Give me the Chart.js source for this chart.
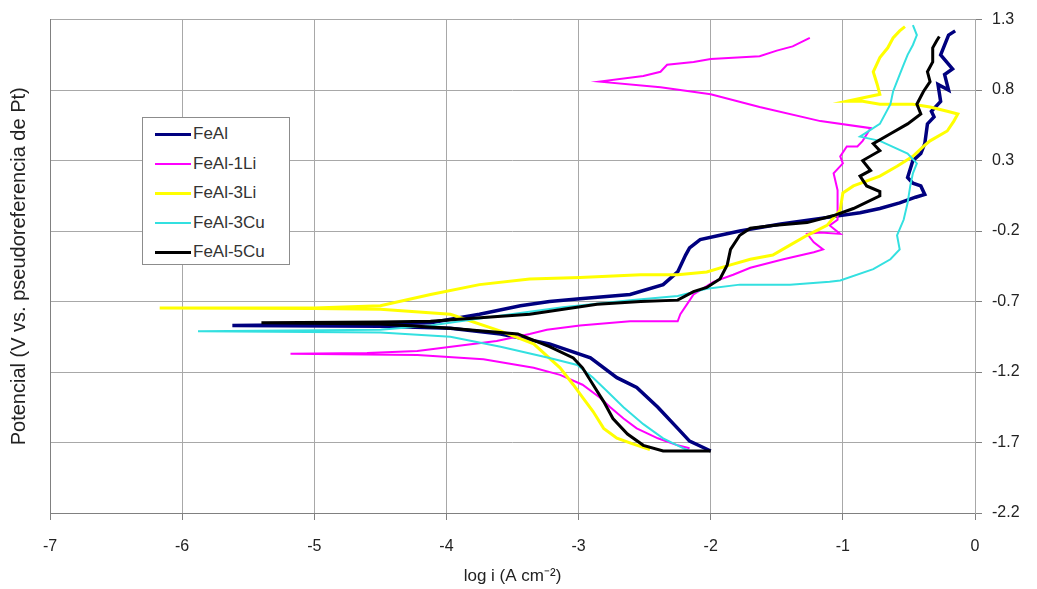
<!DOCTYPE html>
<html><head><meta charset="utf-8">
<script src="https://cdn.jsdelivr.net/npm/chart.js@4.4.0/dist/chart.umd.min.js"></script>
<style>
html,body{margin:0;padding:0;background:#fff;}
#wrap{position:relative;width:1037px;height:589px;overflow:hidden;}
#legend{position:absolute;left:142px;top:117px;width:148px;height:148px;border:1px solid #8c8c8c;background:#fff;box-sizing:border-box;font-family:"Liberation Sans",Arial,sans-serif;font-size:17px;color:#333;}
.row{position:absolute;left:12px;height:20px;display:flex;align-items:center;white-space:nowrap;}
.sw{width:36px;margin-right:2px;}
</style></head><body>
<div id="wrap"><canvas id="c" width="1037" height="589"></canvas><div id="legend"></div></div>
<script>
const seriesNames = ["FeAl", "FeAl-1Li", "FeAl-3Li", "FeAl-3Cu", "FeAl-5Cu"];
const xTicks = [-7, -6, -5, -4, -3, -2, -1, 0];
const yTicks = [1.3, 0.8, 0.3, -0.2, -0.7, -1.2, -1.7, -2.2];

const feAlX = [-2.00,-2.16,-2.25,-2.40,-2.56,-2.71,-2.91,-3.22,-3.59,-3.97,-4.50,-5.62,-4.50,-4.12,-3.75,-3.44,-3.22,-2.99,-2.61,-2.36,-2.25,-2.19,-2.16,-2.08,-1.93,-1.78,-1.47,-1.17,-0.87,-0.72,-0.57,-0.45,-0.38,-0.41,-0.47,-0.51,-0.47,-0.41,-0.38,-0.36,-0.31,-0.33,-0.26,-0.28,-0.20,-0.23,-0.17,-0.26,-0.20,-0.15];
const feAlY = [-1.76,-1.69,-1.60,-1.45,-1.31,-1.24,-1.10,-1.00,-0.93,-0.89,-0.875,-0.87,-0.86,-0.85,-0.79,-0.73,-0.70,-0.68,-0.65,-0.58,-0.49,-0.37,-0.32,-0.26,-0.23,-0.20,-0.15,-0.11,-0.07,-0.04,0.00,0.04,0.06,0.12,0.14,0.18,0.30,0.35,0.42,0.56,0.61,0.65,0.72,0.84,0.80,0.91,0.95,1.05,1.19,1.22];

const feAl1LiX = [-2.16,-2.25,-2.40,-2.56,-2.66,-2.76,-2.84,-2.97,-3.14,-3.34,-3.72,-4.22,-5.18,-4.60,-4.22,-3.62,-3.37,-3.24,-2.99,-2.61,-2.25,-2.23,-2.18,-2.13,-1.98,-1.83,-1.70,-1.45,-1.22,-1.15,-1.22,-1.27,-1.17,-1.02,-1.10,-1.04,-1.04,-1.04,-1.07,-1.00,-1.02,-0.97,-0.89,-0.85,-0.79,-1.17,-1.63,-2.00,-2.38,-2.84,-2.51,-2.38,-2.33,-2.13,-2.00,-1.63,-1.50,-1.38,-1.25];
const feAl1LiY = [-1.74,-1.72,-1.67,-1.60,-1.53,-1.45,-1.38,-1.29,-1.22,-1.17,-1.11,-1.08,-1.07,-1.065,-1.05,-0.98,-0.93,-0.90,-0.87,-0.84,-0.84,-0.79,-0.72,-0.65,-0.56,-0.51,-0.46,-0.40,-0.35,-0.33,-0.28,-0.22,-0.21,-0.22,-0.16,-0.12,-0.07,0.09,0.21,0.28,0.33,0.40,0.40,0.44,0.53,0.58,0.68,0.77,0.82,0.86,0.90,0.93,0.98,1.00,1.02,1.04,1.08,1.11,1.17];

const feAl3LiX = [-2.46,-2.59,-2.71,-2.81,-2.89,-2.97,-3.04,-3.14,-3.34,-3.59,-3.97,-4.50,-5.00,-6.17,-5.00,-4.50,-4.12,-3.75,-3.37,-2.99,-2.53,-2.25,-2.03,-1.85,-1.70,-1.53,-1.40,-1.27,-1.12,-1.02,-1.00,-0.92,-0.72,-0.59,-0.47,-0.39,-0.34,-0.21,-0.16,-0.13,-0.21,-0.34,-0.47,-0.72,-0.85,-0.97,-0.72,-0.74,-0.77,-0.72,-0.66,-0.62,-0.57,-0.53];
const feAl3LiY = [-1.75,-1.71,-1.67,-1.60,-1.48,-1.38,-1.29,-1.17,-1.00,-0.91,-0.79,-0.755,-0.75,-0.745,-0.745,-0.73,-0.65,-0.58,-0.54,-0.53,-0.51,-0.51,-0.49,-0.44,-0.40,-0.37,-0.30,-0.23,-0.16,-0.05,0.07,0.12,0.19,0.26,0.33,0.40,0.44,0.51,0.58,0.63,0.65,0.68,0.70,0.70,0.72,0.72,0.77,0.84,0.93,1.03,1.10,1.17,1.22,1.25];

const feAl3CuX = [-2.16,-2.21,-2.36,-2.51,-2.66,-2.78,-2.89,-3.01,-3.22,-3.59,-3.97,-4.50,-5.88,-4.50,-4.12,-3.75,-3.12,-2.61,-2.25,-2.03,-1.78,-1.40,-1.10,-1.02,-0.77,-0.64,-0.57,-0.59,-0.54,-0.51,-0.49,-0.47,-0.44,-0.51,-0.72,-0.87,-0.72,-0.64,-0.62,-0.57,-0.54,-0.51,-0.47,-0.44,-0.47];
const feAl3CuY = [-1.76,-1.74,-1.67,-1.57,-1.45,-1.34,-1.24,-1.15,-1.10,-1.02,-0.95,-0.92,-0.91,-0.90,-0.87,-0.82,-0.74,-0.69,-0.66,-0.61,-0.58,-0.58,-0.56,-0.55,-0.47,-0.40,-0.33,-0.23,-0.12,0.00,0.12,0.21,0.28,0.35,0.44,0.47,0.56,0.70,0.79,0.91,0.98,1.05,1.12,1.19,1.26];

const feAl5CuX = [-2.00,-2.21,-2.36,-2.51,-2.63,-2.74,-2.81,-2.89,-2.97,-3.04,-3.22,-3.46,-3.97,-4.50,-5.40,-4.50,-4.12,-3.37,-2.86,-2.53,-2.25,-2.13,-2.03,-1.93,-1.875,-1.85,-1.78,-1.70,-1.53,-1.27,-1.07,-0.92,-0.72,-0.72,-0.82,-0.87,-0.79,-0.85,-0.72,-0.77,-0.64,-0.51,-0.41,-0.44,-0.39,-0.34,-0.36,-0.32,-0.32,-0.29,-0.27];
const feAl5CuY = [-1.76,-1.76,-1.76,-1.72,-1.64,-1.53,-1.41,-1.29,-1.17,-1.10,-1.02,-0.93,-0.89,-0.86,-0.85,-0.845,-0.84,-0.79,-0.72,-0.70,-0.69,-0.63,-0.60,-0.54,-0.44,-0.33,-0.23,-0.18,-0.16,-0.14,-0.09,-0.04,0.05,0.08,0.12,0.19,0.23,0.30,0.37,0.42,0.49,0.56,0.63,0.70,0.79,0.86,0.93,1.00,1.10,1.15,1.18];

const seriesX = [feAlX, feAl1LiX, feAl3LiX, feAl3CuX, feAl5CuX];
const seriesY = [feAlY, feAl1LiY, feAl3LiY, feAl3CuY, feAl5CuY];
const colors = ["#00007f", "#ff00ff", "#ffff00", "#33e0e0", "#000000"];
const widths = [3.5, 2, 3, 2, 3];
const orders = [4, 3, 2, 1, 0];

const FONT = '"Liberation Sans", Arial, sans-serif';

const datasets = seriesNames.map((name, i) => ({
  label: name,
  data: seriesX[i].map((x, j) => ({ x: x, y: seriesY[i][j] })),
  borderColor: colors[i],
  backgroundColor: colors[i],
  borderWidth: widths[i],
  showLine: true,
  pointRadius: 0,
  tension: 0,
  fill: false,
  order: orders[i]
}));

new Chart(document.getElementById('c'), {
  type: 'scatter',
  data: { datasets },
  options: {
    responsive: false,
    devicePixelRatio: 1,
    animation: false,
    layout: { padding: { top: 12, left: 0, right: 0, bottom: 0 } },
    plugins: { legend: { display: false }, tooltip: { enabled: false } },
    scales: {
      x: {
        type: 'linear', position: 'bottom', min: -7, max: 0,
        afterBuildTicks: s => { s.ticks = xTicks.map(v => ({ value: v })); },
        afterFit: s => { s.height = 76; },
        ticks: { color: '#222', font: { family: FONT, size: 16 }, padding: 17, callback: v => String(v) },
        grid: { color: '#a8a8a8', lineWidth: 1, tickLength: 7, tickColor: '#808080' },
        border: { color: '#808080', width: 1 },
        title: { display: true, text: 'log i (A cm\u207B\u00B2)', color: '#222', font: { family: FONT, size: 17 }, padding: { top: 0, bottom: 2 } }
      },
      y: {
        type: 'linear', position: 'right', min: -2.2, max: 1.3,
        afterBuildTicks: s => { s.ticks = yTicks.map(v => ({ value: v })); },
        afterFit: s => { s.width = 62; },
        ticks: { color: '#222', font: { family: FONT, size: 16 }, padding: 10, callback: v => Number(v).toFixed(1) },
        grid: { color: '#a8a8a8', lineWidth: 1, tickLength: 7, tickColor: '#808080' },
        border: { color: '#a8a8a8', width: 1 }
      },
      yl: {
        type: 'linear', position: 'left', min: -2.2, max: 1.3,
        afterFit: s => { s.width = 50; },
        ticks: { display: false },
        grid: { display: false, drawTicks: false },
        border: { color: '#808080', width: 1 },
        title: { display: true, text: 'Potencial (V vs. pseudoreferencia de Pt)', color: '#222', font: { family: FONT, size: 20 }, padding: { top: 7, bottom: 0 } }
      }
    }
  }
});

const leg = document.getElementById('legend');
seriesNames.forEach((name, i) => {
  const row = document.createElement('div');
  row.className = 'row';
  row.style.top = (6 + i * 29.5) + 'px';
  const sw = document.createElement('div');
  sw.className = 'sw';
  sw.style.height = '0';
  sw.style.borderTop = widths[i] + 'px solid ' + colors[i];
  const tx = document.createElement('span');
  tx.textContent = name;
  row.appendChild(sw); row.appendChild(tx);
  leg.appendChild(row);
});
</script>
</body></html>
